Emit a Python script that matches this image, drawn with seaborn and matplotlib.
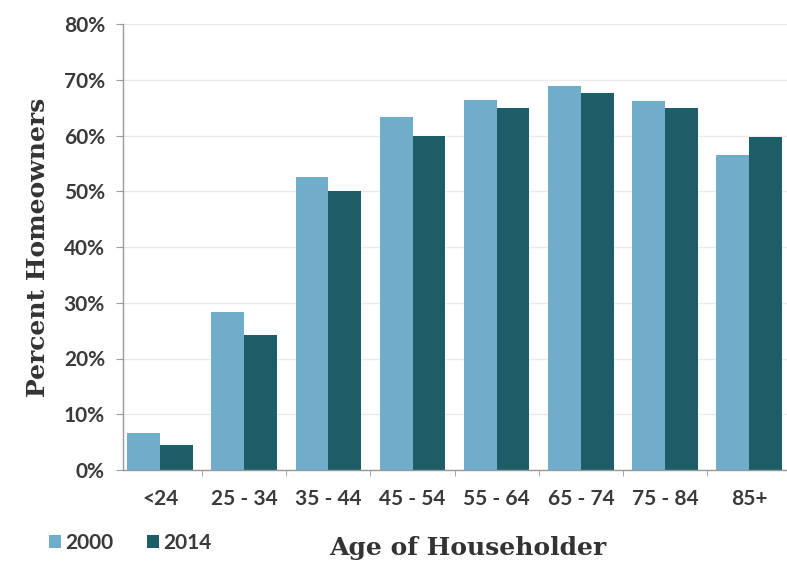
import numpy as np
import pandas as pd
import seaborn as sns
import matplotlib.pyplot as plt
from matplotlib.ticker import PercentFormatter, FixedLocator

# Values (percent of householders who own)
age_groups = ["<24", "25 - 34", "35 - 44", "45 - 54", "55 - 64", "65 - 74", "75 - 84", "85+"]
pct_2000 = [6.6, 28.4, 52.5, 63.4, 66.4, 68.9, 66.2, 56.5]
pct_2014 = [4.5, 24.3, 50.1, 59.9, 64.9, 67.6, 64.9, 59.8]
years = ["2000", "2014"]
colors = ["#70adcb", "#1d5d67"]

df = pd.DataFrame({
    "age": age_groups * 2,
    "year": [years[0]] * len(age_groups) + [years[1]] * len(age_groups),
    "pct": pct_2000 + pct_2014,
})

sns.set_style("white")
plt.rcParams["font.family"] = ["Lato", "DejaVu Sans"]

fig = plt.figure(figsize=(7.87, 5.61), dpi=100)
ax = fig.add_axes([123 / 787, 1 - 470 / 561, 1 - 123 / 787, (470 - 24) / 561])

sns.barplot(data=df, x="age", y="pct", hue="year", order=age_groups,
            hue_order=years, palette=colors, width=0.78, saturation=1,
            linewidth=0, ax=ax)

ax.set_ylim(0, 80)
ax.set_xlim(-0.44, 7.45)
ax.yaxis.set_major_locator(FixedLocator(np.arange(0, 81, 10)))
ax.yaxis.set_major_formatter(PercentFormatter(decimals=0))
ax.grid(axis="y", color="#ebebeb", linewidth=1)
ax.set_axisbelow(True)

# tick marks on the category boundaries, none under the labels
ax.xaxis.set_minor_locator(FixedLocator(np.arange(0.5, 7.5, 1)))
ax.tick_params(axis="x", which="major", length=0, pad=14)
ax.tick_params(axis="x", which="minor", length=4, color="#999999", direction="out", bottom=True)
ax.tick_params(axis="y", length=5, color="#999999", direction="out", left=True, pad=8)

for lab in ax.get_xticklabels() + ax.get_yticklabels():
    lab.set_fontsize(15)
    lab.set_color("#3a3a3a")
    lab.set_fontweight("bold")

for side in ["top", "right"]:
    ax.spines[side].set_visible(False)
for side in ["left", "bottom"]:
    ax.spines[side].set_color("#999999")
    ax.spines[side].set_linewidth(1)

ax.set_ylabel("Percent Homeowners", fontsize=18, fontweight="bold",
              family="DejaVu Serif", color="#333333", labelpad=10)
ax.set_xlabel("")
fig.text(468 / 787, 1 - 548 / 561, "Age of Householder", fontsize=18,
         fontweight="bold", family="DejaVu Serif", color="#333333",
         ha="center", va="center")

# legend at bottom left
handles, labels = ax.get_legend_handles_labels()
ax.get_legend().remove()
leg = fig.legend(handles, labels, loc="center left", bbox_to_anchor=(30 / 787, 1 - 543 / 561),
                 ncol=2, frameon=False, handlelength=0.6, handleheight=0.6,
                 handletextpad=0.2, columnspacing=1.6, fontsize=15)
for t in leg.get_texts():
    t.set_color("#3a3a3a")
    t.set_fontweight("bold")

fig.savefig("out.png", dpi=100)
